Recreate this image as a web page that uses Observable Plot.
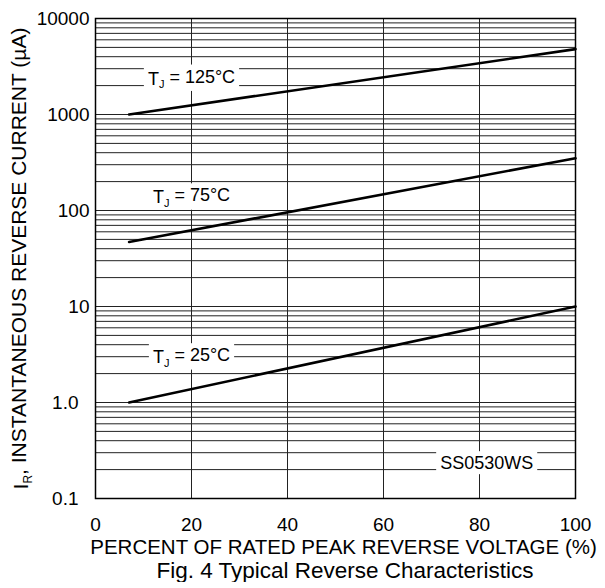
<!DOCTYPE html>
<html><head>
<meta charset="utf-8">
<script src="https://cdn.jsdelivr.net/npm/d3@7"></script>
<script src="https://cdn.jsdelivr.net/npm/@observablehq/plot@0.6"></script>
<style>
body{margin:0;background:#fff;font-family:"Liberation Sans",Arial,sans-serif}
#cap{width:520px;padding-left:85px;text-align:center;font-size:22.5px;line-height:22px;margin-top:-2px;color:#000;white-space:nowrap}
</style></head><body>
<div id="chart"></div>
<div id="cap">Fig. 4 Typical Reverse Characteristics</div>
<script>
// Data
const voltage = [7, 100];
const ir125 = [1000, 4800];
const ir75 = [47, 350];
const ir25 = [1.0, 10];
const xTicks = [0, 20, 40, 60, 80, 100];
const yTicksInt = [10, 100, 1000, 10000];
const yTicksDec = [0.1, 1];
const yTickLabelsDec = ["0.1", "1.0"];
const xGrid = [20, 40, 60, 80];
const decades = [0.1, 1, 10, 100, 1000];
const minor = [1, 2, 3, 4, 5, 6, 7, 8, 9];
const labelText = ["TJ = 125°C", "TJ = 75°C", "TJ = 25°C", "SS0530WS"];
const labelX = [20, 20, 20, 81.5];
const labelY = [2350, 136, 2.94, 0.232];

const yGrid = decades.flatMap(d => minor.map(m => +(d * m).toPrecision(3))).concat([10000]);
const series = [
  ...voltage.map((v, i) => ({v, ir: ir125[i], s: "125"})),
  ...voltage.map((v, i) => ({v, ir: ir75[i], s: "75"})),
  ...voltage.map((v, i) => ({v, ir: ir25[i], s: "25"}))
];
const labels = labelText.map((t, i) => ({t, x: labelX[i], y: labelY[i]}));

const chart = Plot.plot({
  width: 605,
  height: 562,
  marginLeft: 95,
  marginRight: 30,
  marginTop: 18,
  marginBottom: 64,
  style: {fontFamily: "Liberation Sans, Arial, sans-serif", fontSize: "18px", color: "#000", background: "#fff"},
  x: {domain: [0, 100]},
  y: {type: "log", domain: [0.1, 10000]},
  marks: [
    Plot.ruleY(yGrid, {stroke: "#222", strokeWidth: 1}),
    Plot.ruleX(xGrid, {stroke: "#222", strokeWidth: 1}),
    Plot.line(series, {x: "v", y: "ir", z: "s", stroke: "#000", strokeWidth: 2.6}),
    Plot.text(labels, {x: "x", y: "y", text: "t", fontSize: 18, fill: "#000", className: "lbl"}),
    Plot.frame({stroke: "#000", strokeWidth: 1.5}),
    Plot.axisX({ticks: xTicks, tickSize: 0, tickPadding: 19, fontSize: 19, label: null}),
    Plot.axisY({ticks: yTicksInt, tickSize: 0, tickPadding: 6, fontSize: 19, tickFormat: d => String(d), label: null}),
    Plot.axisY({ticks: yTicksDec, tickSize: 0, tickPadding: 17, fontSize: 19,
      tickFormat: d => yTickLabelsDec[yTicksDec.indexOf(d)], label: null}),
    Plot.text(["PERCENT OF RATED PEAK REVERSE VOLTAGE (%)"], {frameAnchor: "bottom", dy: 55, dx: 8, fontSize: 20.5, fill: "#000"}),
    Plot.text(["IR, INSTANTANEOUS REVERSE CURRENT (µA)"], {frameAnchor: "left", textAnchor: "middle", dx: -74, dy: 0, rotate: -90, fontSize: 21, fill: "#000", className: "ylab"})
  ]
});
document.getElementById("chart").appendChild(chart);

function subscript(textEl, main, sub, rest, subSize) {
  const t = d3.select(textEl);
  t.text(null);
  t.append("tspan").text(main);
  t.append("tspan").attr("font-size", subSize).attr("dy", "0.3em").text(sub);
  t.append("tspan").attr("dy", "-0.3em").text(rest);
}
d3.select(chart).selectAll("g.lbl text").each(function() {
  const s = this.textContent;
  if (s.startsWith("TJ")) subscript(this, "T", "J", s.slice(2), 11);
  const b = this.getBBox();
  const tr = this.getAttribute("transform");
  const r = d3.select(this.parentNode).insert("rect", () => this)
    .attr("x", b.x - 4).attr("y", b.y - 2).attr("width", b.width + 8).attr("height", b.height + 3)
    .attr("fill", "#fff");
  if (tr) r.attr("transform", tr);
});
d3.select(chart).selectAll("g.ylab text").each(function() {
  const s = this.textContent;
  subscript(this, "I", "R", s.slice(2), 12);
});
</script>
</body></html>
